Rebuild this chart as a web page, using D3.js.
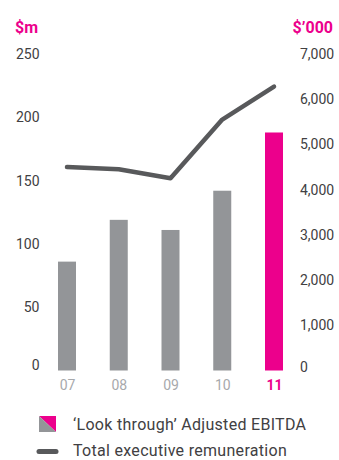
<!DOCTYPE html>
<html>
<head>
<meta charset="utf-8">
<script src="https://cdn.jsdelivr.net/npm/d3@7"></script>
<style>
  body{margin:0;background:#fff;}
  text{font-family:Roboto,"DejaVu Sans",sans-serif;}
</style>
</head>
<body>
<script>
var years=["07","08","09","10","11"]
var ebitda=[86,119,111,142,188]
var remuneration=[4500,4450,4250,5550,6280]
var leftTicks=[0,50,100,150,200,250]
var rightTicks=[0,1000,2000,3000,4000,5000,6000,7000]
var legendLabels=["\u2018Look through\u2019 Adjusted EBITDA","Total executive remuneration"]

var screen={width:339,height:460}
var pink="#ec008c", barGrey="#939598", lineGrey="#58595b", textCol="#414042"

var svg=d3.select("body").append("svg")
          .attr("width",screen.width)
          .attr("height",screen.height)

var xScale=d3.scalePoint()
             .domain(years)
             .range([67,274])
var barWidth=18
var yLeft=d3.scaleLinear()
            .domain([0,250])
            .range([370.5,54])
var yRight=d3.scaleLinear()
             .domain([0,7000])
             .range([370.5,54])

// unit titles
svg.append("text").attr("x",15).attr("y",27).attr("dy","0.35em")
   .attr("fill",pink).attr("font-size",16).attr("font-weight","bold").text("$m")
svg.append("text").attr("x",333).attr("y",27).attr("dy","0.35em").attr("text-anchor","end")
   .attr("fill",pink).attr("font-size",16).attr("font-weight","bold").text("$\u2019000")

// bars
svg.selectAll(".bar")
   .data(ebitda)
   .enter()
   .append("rect")
   .attr("class","bar")
   .attr("x",function(d,i){return xScale(years[i])-barWidth/2})
   .attr("y",function(d){return yLeft(d)})
   .attr("width",barWidth)
   .attr("height",function(d){return yLeft(0)-yLeft(d)})
   .attr("fill",function(d,i){return i==years.length-1?pink:barGrey})

// line
var drawLine=d3.line()
               .x(function(d,i){return xScale(years[i])})
               .y(function(d){return yRight(d)})
svg.append("path")
   .datum(remuneration)
   .attr("d",drawLine)
   .attr("fill","none")
   .attr("stroke",lineGrey)
   .attr("stroke-width",4.5)
   .attr("stroke-linecap","round")
   .attr("stroke-linejoin","round")

// axes
var leftAxis=d3.axisLeft(yLeft).tickValues(leftTicks).tickSize(0).tickPadding(0)
var gl=svg.append("g").attr("transform","translate(39.5,0)").call(leftAxis)
gl.select(".domain").remove()
gl.selectAll("text").attr("font-size",14).attr("fill",textCol)
  .attr("font-family","Roboto,sans-serif")
  .attr("dy",function(d){return d==0?"-0.05em":"0.32em"})

var rightAxis=d3.axisRight(yRight).tickValues(rightTicks).tickSize(0).tickPadding(0)
  .tickFormat(d3.format(","))
var gr=svg.append("g").attr("transform","translate(300,0)").call(rightAxis)
gr.select(".domain").remove()
gr.selectAll("text").attr("font-size",14).attr("fill",textCol)
  .attr("font-family","Roboto,sans-serif")
  .attr("dy",function(d){return d==0?"0.05em":"0.32em"})

var bottomAxis=d3.axisBottom(xScale).tickSize(0).tickPadding(0)
var gb=svg.append("g").attr("transform","translate(0,378)").call(bottomAxis)
gb.select(".domain").remove()
gb.selectAll("text").attr("font-size",14)
  .attr("font-family","Roboto,sans-serif")
  .attr("dy","0.85em")
  .attr("fill",function(d,i){return i==years.length-1?pink:"#a7a9ac"})
  .attr("font-weight",function(d,i){return i==years.length-1?"bold":"normal"})

// legend
var legend=svg.append("g").attr("transform","translate(39,424)")
legend.append("path").attr("d","M0,-8L17,-8L17,8Z").attr("fill",pink)
legend.append("path").attr("d","M0,-8L17,8L0,8Z").attr("fill",barGrey)
legend.append("line").attr("x1",0).attr("x2",17).attr("y1",27.5).attr("y2",27.5)
      .attr("stroke",lineGrey).attr("stroke-width",5).attr("stroke-linecap","round")
legend.selectAll(".legendText")
      .data(legendLabels)
      .enter()
      .append("text")
      .attr("x",34)
      .attr("y",function(d,i){return i*26.5})
      .attr("dy","0.35em")
      .attr("font-size",16)
      .attr("letter-spacing",0.3)
      .attr("fill",textCol)
      .text(function(d){return d})
</script>
</body>
</html>
